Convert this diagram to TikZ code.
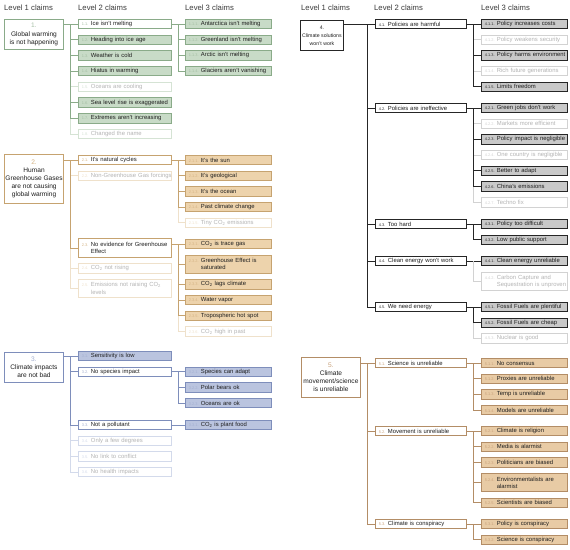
\documentclass[tikz,border=0pt]{standalone}
\usepackage{fontspec}
\setmainfont{Liberation Sans}
\usepackage{tikz}
\usetikzlibrary{positioning, calc}

\definecolor{ink}{HTML}{1E1E1E}
\definecolor{hdrc}{HTML}{3A3A3A}
\definecolor{fadeT}{HTML}{B4B4B4}
% green (1)
\definecolor{grnF}{HTML}{C8DBC7}
\definecolor{grnL}{HTML}{8AAB89}
\definecolor{grnN}{HTML}{A5BFA4}
\definecolor{grnX}{HTML}{D5E3D4}
% tan (2)
\definecolor{tanF}{HTML}{EDD3AC}
\definecolor{tanL}{HTML}{C6A370}
\definecolor{tanN}{HTML}{D4B384}
\definecolor{tanX}{HTML}{EFE1CB}
% blue (3)
\definecolor{bluF}{HTML}{BAC4DF}
\definecolor{bluL}{HTML}{7E8EBB}
\definecolor{bluN}{HTML}{A3AFD0}
\definecolor{bluX}{HTML}{D3DAEB}
% grey (4)
\definecolor{gryF}{HTML}{C9C9C9}
\definecolor{gryL}{HTML}{262626}
\definecolor{gryN}{HTML}{2E2E2E}
\definecolor{gryX}{HTML}{D2D2D2}
% brown (5)
\definecolor{brnF}{HTML}{E8CBA5}
\definecolor{brnL}{HTML}{B38D66}
\definecolor{brnN}{HTML}{C9A27C}
\colorlet{numc}{ink}

% claim number + one unbroken line of text
\newcommand{\ntwo}[2]{\mbox{\makebox[9pt][l]{\fontsize{3.9}{4}\selectfont\color{numc}#1}#2}}
\newcommand{\nthree}[2]{\mbox{\makebox[12pt][l]{\fontsize{3.9}{4}\selectfont\color{numc}#1}#2}}

\begin{document}
\begin{tikzpicture}[x=1pt, y=-1pt, node distance=5.3pt,
  box/.style={draw, line width=0.9pt, anchor=west, align=left, text=ink,
              inner xsep=3.5pt, inner ysep=1.5pt, minimum height=9.5pt,
              font=\fontsize{5.9}{7.2}\selectfont},
  sub/.style={box, text width=86pt},
  subr/.style={box, text width=84pt},
  leaf/.style={box, text width=79pt},
  tall/.style={minimum height=18.5pt},
  root/.style={draw, line width=0.9pt, anchor=north west, align=center, text=ink,
               inner sep=1pt, font=\fontsize{6.6}{8.2}\selectfont},
  hdr/.style={anchor=west, inner sep=0pt, text=hdrc, font=\fontsize{7.7}{9}\selectfont},
  % claim colours: filled, open (has sub-claims), faded
  gA/.style={draw=grnL, fill=grnF, /utils/exec={\colorlet{numc}{grnN}}},
  gAo/.style={draw=grnL, fill=white, /utils/exec={\colorlet{numc}{grnN}}},
  gAx/.style={draw=grnX, fill=white, text=fadeT, /utils/exec={\colorlet{numc}{grnX}}},
  gB/.style={draw=tanL, fill=tanF, /utils/exec={\colorlet{numc}{tanN}}},
  gBo/.style={draw=tanL, fill=white, /utils/exec={\colorlet{numc}{tanN}}},
  gBx/.style={draw=tanX, fill=white, text=fadeT, /utils/exec={\colorlet{numc}{tanX}}},
  gC/.style={draw=bluL, fill=bluF, /utils/exec={\colorlet{numc}{bluN}}},
  gCo/.style={draw=bluL, fill=white, /utils/exec={\colorlet{numc}{bluN}}},
  gCx/.style={draw=bluX, fill=white, text=fadeT, /utils/exec={\colorlet{numc}{bluX}}},
  gD/.style={draw=gryL, fill=gryF, /utils/exec={\colorlet{numc}{gryN}}},
  gDo/.style={draw=gryL, fill=white, /utils/exec={\colorlet{numc}{gryN}}},
  gDx/.style={draw=gryX, fill=white, text=fadeT, /utils/exec={\colorlet{numc}{gryX}}},
  gE/.style={draw=brnL, fill=brnF, /utils/exec={\colorlet{numc}{brnN}}},
  gEo/.style={draw=brnL, fill=white, /utils/exec={\colorlet{numc}{brnN}}},
  lnA/.style={grnL, line width=0.8pt}, lnAx/.style={grnX, line width=0.8pt},
  lnB/.style={tanL, line width=0.8pt}, lnBx/.style={tanX, line width=0.8pt},
  lnC/.style={bluL, line width=0.8pt}, lnCx/.style={bluX, line width=0.8pt},
  lnD/.style={gryL, line width=0.8pt}, lnDx/.style={gryX, line width=0.8pt},
  lnE/.style={brnL, line width=0.8pt},
]
\useasboundingbox (0,0) rectangle (570,549);

% headers
\node[hdr] (hl1) at (4,7.5)   {Level 1 claims};
\node[hdr] (hl2) at (78,7.5)  {Level 2 claims};
\node[hdr] (hl3) at (185,7.5) {Level 3 claims};
\node[hdr] (hr1) at (301,7.5) {Level 1 claims};
\node[hdr] (hr2) at (374,7.5) {Level 2 claims};
\node[hdr] (hr3) at (481,7.5) {Level 3 claims};

% 1. not happening
\node[root, gAo, minimum width=59pt, minimum height=30pt] (n1) at (4,19)
  {{\color{numc}1.}\\Global warming\\is not happening};
\node[sub, gAo] (n11) at (78,24) {\ntwo{1.1.}{Ice isn't melting}};
\node[sub, gA,  below=of n11] (n12) {\ntwo{1.2.}{Heading into ice age}};
\node[sub, gA,  below=of n12] (n13) {\ntwo{1.3.}{Weather is cold}};
\node[sub, gA,  below=of n13] (n14) {\ntwo{1.4.}{Hiatus in warming}};
\node[sub, gAx, below=of n14] (n15) {\ntwo{1.5.}{Oceans are cooling}};
\node[sub, gA,  below=of n15] (n16) {\ntwo{1.6.}{Sea level rise is exaggerated}};
\node[sub, gA,  below=of n16] (n17) {\ntwo{1.7.}{Extremes aren't increasing}};
\node[sub, gAx, below=of n17] (n18) {\ntwo{1.8.}{Changed the name}};
\node[leaf, gA, right=13pt of n11] (n111) {\nthree{1.1.1.}{Antarctica isn't melting}};
\node[leaf, gA, below=of n111] (n112) {\nthree{1.1.2.}{Greenland isn't melting}};
\node[leaf, gA, below=of n112] (n113) {\nthree{1.1.3.}{Arctic isn't melting}};
\node[leaf, gA, below=of n113] (n114) {\nthree{1.1.4.}{Glaciers aren't vanishing}};

\draw[lnA] (n1.east |- n11) -- (n11.west);
\foreach \c in {n15,n18} \draw[lnAx] ($(n11.west)+(-8pt,0)$) |- (\c.west);
\foreach \c in {n12,n13,n14,n16,n17} \draw[lnA] ($(n11.west)+(-8pt,0)$) |- (\c.west);
\draw[lnA] (n11.east) -- (n111.west);
\foreach \c in {n112,n113,n114} \draw[lnA] ($(n111.west)+(-7pt,0)$) |- (\c.west);

% 2. not caused by GHG
\node[root, gBo, minimum width=59pt, minimum height=49pt] (n2) at (4,154)
  {{\color{numc}2.}\\Human\\Greenhouse Gases\\are not causing\\global warming};
\node[sub, gBo] (n21) at (78,160) {\ntwo{2.1.}{It's natural cycles}};
\node[sub, gBx, below=of n21] (n22) {\ntwo{2.2.}{Non-Greenhouse Gas forcings}};
\node[sub, gBo, tall] (n23) at (78,248) {\ntwo{2.3.}{No evidence for Greenhouse}\\\hspace*{9pt}Effect};
\node[sub, gBx, below=of n23] (n24) {\ntwo{2.4.}{CO\textsubscript{2} not rising}};
\node[sub, gBx, tall, below=of n24] (n25) {\ntwo{2.5.}{Emissions not raising CO\textsubscript{2}}\\\hspace*{9pt}levels};
\node[leaf, gB, right=13pt of n21] (n211) {\nthree{2.1.1.}{It's the sun}};
\node[leaf, gB, below=of n211] (n212) {\nthree{2.1.2.}{It's geological}};
\node[leaf, gB, below=of n212] (n213) {\nthree{2.1.3.}{It's the ocean}};
\node[leaf, gB, below=of n213] (n214) {\nthree{2.1.4.}{Past climate change}};
\node[leaf, gBx, below=of n214] (n215) {\nthree{2.1.5.}{Tiny CO\textsubscript{2} emissions}};
\node[leaf, gB] (n231) at (185,244) {\nthree{2.3.1.}{CO\textsubscript{2} is trace gas}};
\node[leaf, gB, tall, below=of n231] (n232) {\nthree{2.3.2.}{Greenhouse Effect is}\\\hspace*{12pt}saturated};
\node[leaf, gB, below=of n232] (n233) {\nthree{2.3.3.}{CO\textsubscript{2} lags climate}};
\node[leaf, gB, below=of n233] (n234) {\nthree{2.3.4.}{Water vapor}};
\node[leaf, gB, below=of n234] (n235) {\nthree{2.3.5.}{Tropospheric hot spot}};
\node[leaf, gBx, below=of n235] (n236) {\nthree{2.3.6.}{CO\textsubscript{2} high in past}};

\draw[lnB] (n2.east |- n21) -- (n21.west);
\foreach \c in {n22,n24,n25} \draw[lnBx] ($(n21.west)+(-8pt,0)$) |- (\c.west);
\draw[lnB] ($(n21.west)+(-8pt,0)$) |- (n23.west);
\draw[lnB] (n21.east) -- (n211.west);
\draw[lnBx] ($(n211.west)+(-7pt,0)$) |- (n215.west);
\foreach \c in {n212,n213,n214} \draw[lnB] ($(n211.west)+(-7pt,0)$) |- (\c.west);
\draw[lnB] (n23.east |- n231) -- (n231.west);
\draw[lnBx] ($(n231.west)+(-7pt,0)$) |- (n236.west);
\foreach \c in {n232,n233,n234,n235} \draw[lnB] ($(n231.west)+(-7pt,0)$) |- (\c.west);

% 3. impacts not bad
\node[root, gCo, minimum width=59pt, minimum height=30pt] (n3) at (4,352)
  {{\color{numc}3.}\\Climate impacts\\are not bad};
\node[sub, gC] (n31) at (78,356) {\ntwo{3.1.}{Sensitivity is low}};
\node[sub, gCo, below=of n31] (n32) {\ntwo{3.2.}{No species impact}};
\node[sub, gCo] (n33) at (78,425) {\ntwo{3.3.}{Not a pollutant}};
\node[sub, gCx, below=of n33] (n34) {\ntwo{3.4.}{Only a few degrees}};
\node[sub, gCx, below=of n34] (n35) {\ntwo{3.5.}{No link to conflict}};
\node[sub, gCx, below=of n35] (n36) {\ntwo{3.6.}{No health impacts}};
\node[leaf, gC, right=13pt of n32] (n321) {\nthree{3.2.1.}{Species can adapt}};
\node[leaf, gC, below=of n321] (n322) {\nthree{3.2.2.}{Polar bears ok}};
\node[leaf, gC, below=of n322] (n323) {\nthree{3.2.3.}{Oceans are ok}};
\node[leaf, gC, right=13pt of n33] (n331) {\nthree{3.3.1.}{CO\textsubscript{2} is plant food}};

\draw[lnC] (n3.east |- n31) -- (n31.west);
\foreach \c in {n34,n35,n36} \draw[lnCx] ($(n31.west)+(-8pt,0)$) |- (\c.west);
\foreach \c in {n32,n33} \draw[lnC] ($(n31.west)+(-8pt,0)$) |- (\c.west);
\draw[lnC] (n32.east) -- (n321.west);
\foreach \c in {n322,n323} \draw[lnC] ($(n321.west)+(-7pt,0)$) |- (\c.west);
\draw[lnC] (n33.east) -- (n331.west);

% 4. solutions won't work
\node[root, gDo, minimum width=43pt, minimum height=30pt, inner sep=0.3pt,
      font=\fontsize{5.2}{8.2}\selectfont] (n4) at (300,20)
  {{\color{numc}4.}\\Climate solutions\\won't work};
\node[subr, gDo] (n41) at (375,24)  {\ntwo{4.1.}{Policies are harmful}};
\node[subr, gDo] (n42) at (375,108) {\ntwo{4.2.}{Policies are ineffective}};
\node[subr, gDo] (n43) at (375,224) {\ntwo{4.3.}{Too hard}};
\node[subr, gDo] (n44) at (375,261) {\ntwo{4.4.}{Clean energy won't work}};
\node[subr, gDo] (n45) at (375,307) {\ntwo{4.5.}{We need energy}};
\node[leaf, gD, right=14pt of n41] (n411) {\nthree{4.1.1.}{Policy increases costs}};
\node[leaf, gDx, below=of n411] (n412) {\nthree{4.1.2.}{Policy weakens security}};
\node[leaf, gD, below=of n412] (n413) {\nthree{4.1.3.}{Policy harms environment}};
\node[leaf, gDx, below=of n413] (n414) {\nthree{4.1.4.}{Rich future generations}};
\node[leaf, gD, below=of n414] (n415) {\nthree{4.1.5.}{Limits freedom}};
\node[leaf, gD, right=14pt of n42] (n421) {\nthree{4.2.1.}{Green jobs don't work}};
\node[leaf, gDx, below=of n421] (n422) {\nthree{4.2.2.}{Markets more efficient}};
\node[leaf, gD, below=of n422] (n423) {\nthree{4.2.3.}{Policy impact is negligible}};
\node[leaf, gDx, below=of n423] (n424) {\nthree{4.2.4.}{One country is negligible}};
\node[leaf, gD, below=of n424] (n425) {\nthree{4.2.5.}{Better to adapt}};
\node[leaf, gD, below=of n425] (n426) {\nthree{4.2.6.}{China's emissions}};
\node[leaf, gDx, below=of n426] (n427) {\nthree{4.2.7.}{Techno fix}};
\node[leaf, gD, right=14pt of n43] (n431) {\nthree{4.3.1.}{Policy too difficult}};
\node[leaf, gD, below=of n431] (n432) {\nthree{4.3.2.}{Low public support}};
\node[leaf, gD, right=14pt of n44] (n441) {\nthree{4.4.1.}{Clean energy unreliable}};
\node[leaf, gDx, tall, below=of n441] (n442) {\nthree{4.4.2.}{Carbon Capture and}\\\hspace*{12pt}\mbox{Sequestration is unproven}};
\node[leaf, gD, right=14pt of n45] (n451) {\nthree{4.5.1.}{Fossil Fuels are plentiful}};
\node[leaf, gD, below=of n451] (n452) {\nthree{4.5.2.}{Fossil Fuels are cheap}};
\node[leaf, gDx, below=of n452] (n453) {\nthree{4.5.3.}{Nuclear is good}};

\draw[lnD] (n4.east |- n41) -- (n41.west);
\foreach \c in {n42,n43,n44,n45} \draw[lnD] ($(n41.west)+(-8pt,0)$) |- (\c.west);
\draw[lnD] (n41.east) -- (n411.west);
\foreach \c in {n412,n414} \draw[lnDx] ($(n411.west)+(-8pt,0)$) |- (\c.west);
\foreach \c in {n413,n415} \draw[lnD] ($(n411.west)+(-8pt,0)$) |- (\c.west);
\draw[lnD] (n42.east) -- (n421.west);
\foreach \c in {n422,n424,n427} \draw[lnDx] ($(n421.west)+(-8pt,0)$) |- (\c.west);
\foreach \c in {n423,n425,n426} \draw[lnD] ($(n421.west)+(-8pt,0)$) |- (\c.west);
\draw[lnD] (n43.east) -- (n431.west);
\draw[lnD] ($(n431.west)+(-8pt,0)$) |- (n432.west);
\draw[lnD] (n44.east) -- (n441.west);
\draw[lnDx] ($(n441.west)+(-8pt,0)$) |- (n442.west);
\draw[lnD] (n45.east) -- (n451.west);
\draw[lnDx] ($(n451.west)+(-8pt,0)$) |- (n453.west);
\draw[lnD] ($(n451.west)+(-8pt,0)$) |- (n452.west);

% 5. movement/science unreliable
\node[root, gEo, minimum width=59pt, minimum height=40pt] (n5) at (301,357)
  {{\color{numc}5.}\\Climate\\movement/science\\is unreliable};
\node[subr, gEo] (n51) at (375,363) {\ntwo{5.1.}{Science is unreliable}};
\node[subr, gEo] (n52) at (375,431) {\ntwo{5.2.}{Movement is unreliable}};
\node[subr, gEo] (n53) at (375,524) {\ntwo{5.3.}{Climate is conspiracy}};
\node[leaf, gE, right=14pt of n51] (n511) {\nthree{5.1.1.}{No consensus}};
\node[leaf, gE, below=of n511] (n512) {\nthree{5.1.2.}{Proxies are unreliable}};
\node[leaf, gE, below=of n512] (n513) {\nthree{5.1.3.}{Temp is unreliable}};
\node[leaf, gE, below=of n513] (n514) {\nthree{5.1.4.}{Models are unreliable}};
\node[leaf, gE, right=14pt of n52] (n521) {\nthree{5.2.1.}{Climate is religion}};
\node[leaf, gE, below=of n521] (n522) {\nthree{5.2.2.}{Media is alarmist}};
\node[leaf, gE, below=of n522] (n523) {\nthree{5.2.3.}{Politicians are biased}};
\node[leaf, gE, tall, below=of n523] (n524) {\nthree{5.2.4.}{Environmentalists are}\\\hspace*{12pt}alarmist};
\node[leaf, gE, below=of n524] (n525) {\nthree{5.2.5.}{Scientists are biased}};
\node[leaf, gE, right=14pt of n53] (n531) {\nthree{5.3.1.}{Policy is conspiracy}};
\node[leaf, gE, below=of n531] (n532) {\nthree{5.3.2.}{Science is conspiracy}};

\draw[lnE] (n5.east |- n51) -- (n51.west);
\foreach \c in {n52,n53} \draw[lnE] ($(n51.west)+(-8pt,0)$) |- (\c.west);
\draw[lnE] (n51.east) -- (n511.west);
\foreach \c in {n512,n513,n514} \draw[lnE] ($(n511.west)+(-8pt,0)$) |- (\c.west);
\draw[lnE] (n52.east) -- (n521.west);
\foreach \c in {n522,n523,n524,n525} \draw[lnE] ($(n521.west)+(-8pt,0)$) |- (\c.west);
\draw[lnE] (n53.east) -- (n531.west);
\draw[lnE] ($(n531.west)+(-8pt,0)$) |- (n532.west);
\end{tikzpicture}
\end{document}
